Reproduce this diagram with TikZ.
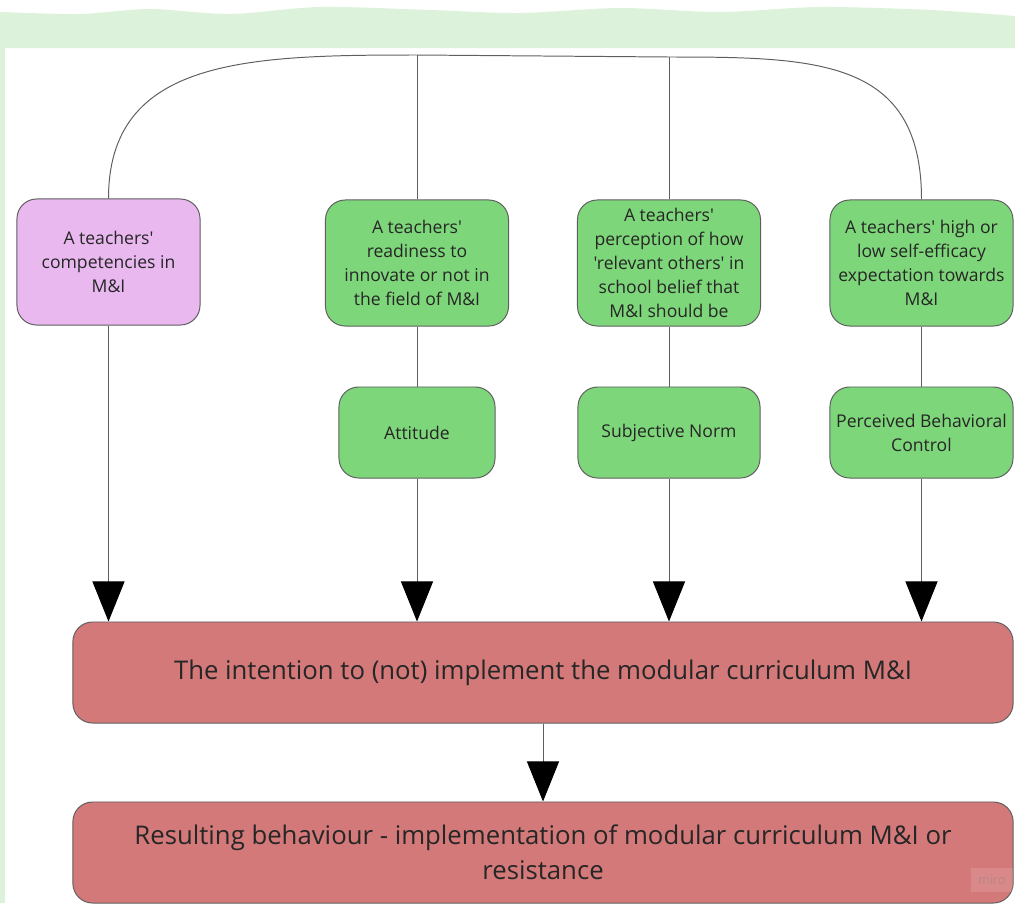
\documentclass[tikz,border=0pt]{standalone}
\usepackage{fontspec}
\setmainfont{Open Sans}[Ligatures=TeXOff]
\usetikzlibrary{arrows.meta,positioning}
\definecolor{lila}{RGB}{232,184,239}
\definecolor{zold}{RGB}{126,214,122}
\definecolor{piros}{RGB}{212,121,121}
\definecolor{savzold}{RGB}{221,242,218}
\definecolor{vonal}{RGB}{95,95,95}
\tikzset{
  dob/.style={draw=vonal,line width=0.7pt,rounded corners=14pt,align=center,
    inner sep=1pt,text=black!85,font=\fontsize{12.5}{17}\selectfont},
  lilad/.style={dob,fill=lila,minimum width=4.575cm,minimum height=3.15cm},
  zoldd/.style={dob,fill=zold,minimum width=4.575cm,minimum height=3.15cm},
  kisd/.style={dob,fill=zold,minimum width=3.9cm,minimum height=2.275cm},
  nagyd/.style={dob,fill=piros,minimum width=23.5cm,minimum height=2.525cm,
    font=\fontsize{18.3}{25}\selectfont},
  vsz/.style={draw=vonal,line width=0.7pt},
  lenyil/.style={vsz,-{Triangle[length=1cm,width=0.8cm,color=black,fill=black]}},
}
\begin{document}
\begin{tikzpicture}[x=0.025cm,y=-0.025cm]
  \useasboundingbox (0,0) rectangle (1015,903);
  % hatter
  \fill[savzold] (0,48) -- plot[smooth] coordinates {(0,12) (80,14) (150,9) (230,14)
    (320,7) (430,10) (520,13) (620,8) (720,12) (820,7) (930,10) (1015,16)}
    -- (1015,48) -- cycle;
  \fill[savzold] (0,48) rectangle (5,903);

  % felso sor
  \node[lilad] (komp) at (108.5,262) {A teachers'\\competencies in\\M\&I};
  \node[zoldd] (hajl) at (417,263) {A teachers'\\readiness to\\innovate or not in\\the field of M\&I};
  \node[zoldd] (norma) at (669,263) {A teachers'\\perception of how\\'relevant others' in\\school belief that\\M\&I should be};
  \node[zoldd] (hat) at (921.5,263) {A teachers' high or\\low self-efficacy\\expectation towards\\M\&I};

  % kozepso sor
  \node[kisd] (att) at (417,432.5) {Attitude};
  \node[kisd,minimum width=4.55cm] (szn) at (669,432.5) {Subjective Norm};
  \node[kisd,minimum width=4.575cm] (pbc) at (921.5,432.5) {Perceived Behavioral\\Control};

  % also dobozok
  \node[nagyd] (szand) at (543,672.5) {The intention to (not) implement the modular curriculum M\&I};
  \node[nagyd] (visel) at (543,852.5) {Resulting behaviour - implementation of modular curriculum M\&I or\\resistance};

  % felso ivek
  \coordinate (fentA) at (417,55);
  \coordinate (fentB) at (669,57);
  \draw[vsz] (komp.north) .. controls +(0,-140) and +(-170,0) .. (fentA) -- (fentB)
    .. controls +(150,0) and +(0,-140) .. (hat.north);
  \draw[vsz] (hajl.north) -- (hajl.north |- fentA);
  \draw[vsz] (norma.north) -- (norma.north |- fentB);

  % osszekotok
  \draw[vsz] (hajl.south) -- (att.north);
  \draw[vsz] (norma.south) -- (szn.north);
  \draw[vsz] (hat.south) -- (pbc.north);
  \draw[lenyil] (komp.south) -- (komp.south |- szand.north);
  \draw[lenyil] (att.south) -- (att.south |- szand.north);
  \draw[lenyil] (szn.south) -- (szn.south |- szand.north);
  \draw[lenyil] (pbc.south) -- (pbc.south |- szand.north);
  \draw[lenyil] (szand.south) -- (visel.north);

  \node[fill=white,fill opacity=0.12,text opacity=0.35,text=gray,inner sep=0pt,
    minimum width=1.05cm,minimum height=0.6cm,font=\fontsize{9}{9}\selectfont]
    (miro) at (992,880) {miro};
\end{tikzpicture}
\end{document}
